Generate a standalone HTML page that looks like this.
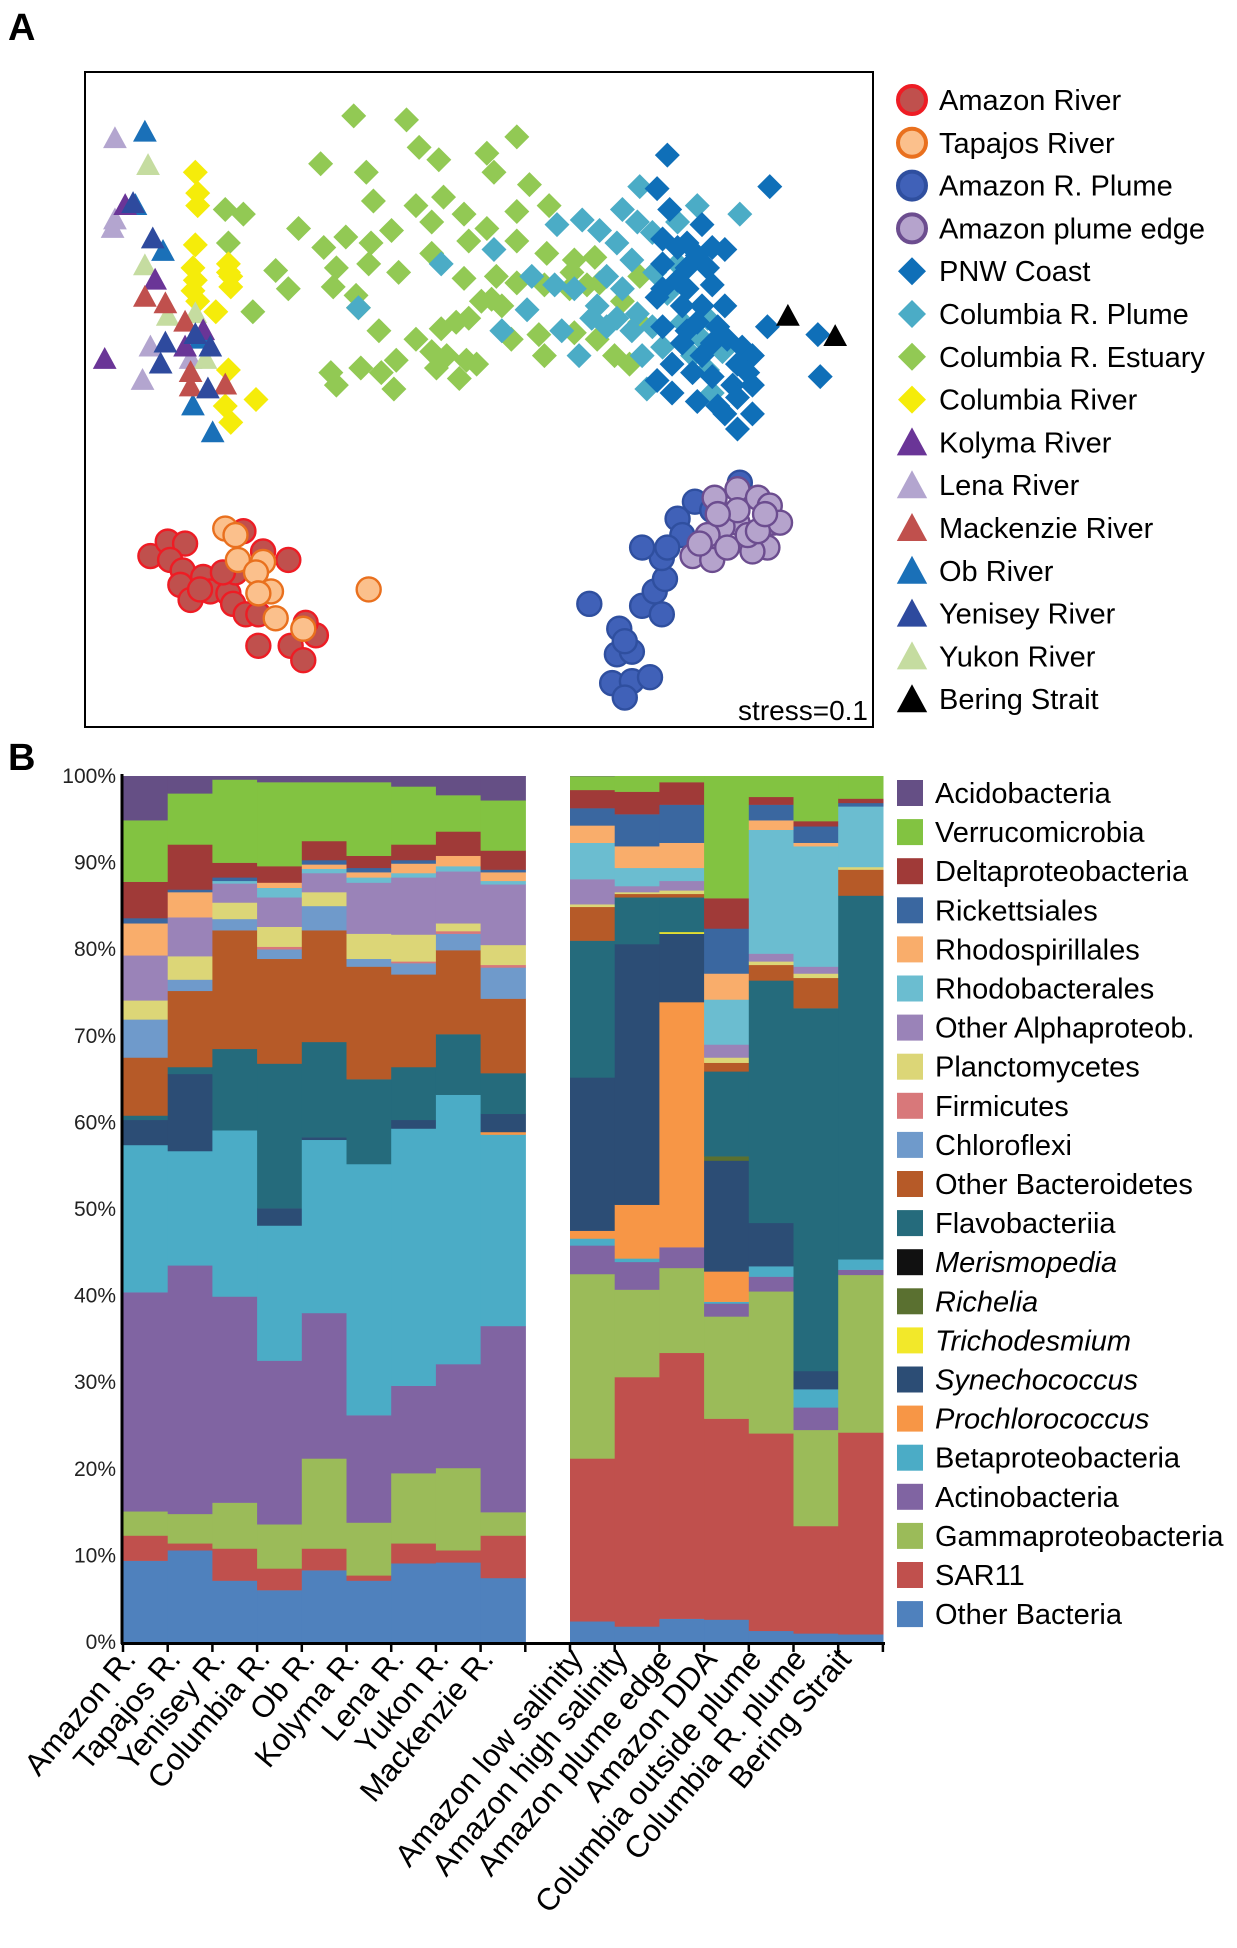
<!DOCTYPE html>
<html><head><meta charset="utf-8"><style>
html,body{margin:0;padding:0;background:#fff;}
svg{display:block;font-family:"Liberation Sans",Arial,sans-serif;}
</style></head><body>
<svg id="fig" width="1237" height="1948" viewBox="0 0 1237 1948">
<text x="8" y="40" font-size="38" font-weight="bold">A</text>
<text x="8" y="770" font-size="38" font-weight="bold">B</text>
<rect x="85" y="72" width="788" height="655" fill="none" stroke="#000" stroke-width="2"/>
<g id="scatter"></g>
<text x="868" y="720" font-size="28" text-anchor="end">stress=0.1</text>
<g id="legA"></g>
<g id="bars"></g>
<g id="axes"></g>
<g id="legB"></g>
</svg>
<script>
// ---------- Panel A data (NMDS coords, % of plot extent) ----------
const amazonRiver=[[8.3,73.9],[10.5,71.7],[12.7,72],[10.8,74.5],[12.4,76.1],[12.1,78.3],[13.4,80.6],[15,77.1],[15.9,79.3],[18.2,79.6],[18.8,81.2],[19.1,76.4],[20.1,70.1],[22.6,73.2],[25.8,74.5],[20.4,82.8],[22,82.8],[22,87.6],[26.1,87.6],[27.7,89.8],[29.3,86],[28,84.1],[17.5,76.4],[14.6,79]];
const tapajosRiver=[[17.8,69.7],[19.1,70.7],[19.4,74.5],[22.6,74.8],[21.7,76.4],[23.6,79.3],[22,79.6],[24.2,83.4],[27.7,85],[36,79]];
const amazonPlume=[[64,81.2],[67.8,85],[70.7,81.5],[73.2,82.8],[72.3,79.3],[73.6,77.4],[73.2,74.2],[70.7,72.6],[75.2,68.2],[75.8,70.7],[77.4,65.6],[83.1,62.7],[67.5,88.9],[69.4,88.5],[68.5,86.9],[66.9,93.3],[69.4,93],[71.7,92.4],[68.5,95.5],[73.9,72.6],[79.6,66.9]];
const plumeEdge=[[79.9,65],[82.8,63.7],[85.4,65],[86.9,66.2],[87.3,68.8],[88.2,68.8],[86.6,72.6],[84.7,73.2],[82.8,68.8],[80.9,69.4],[79,70.7],[77.1,73.9],[79.6,74.5],[81.5,72.6],[84.1,70.7],[85.4,70.1],[82.8,66.9],[80.3,67.5],[78,72],[86.3,67.5]];
const estuary=[[34.1,6.7],[40.8,7.3],[54.8,9.9],[42.4,11.5],[44.9,13.4],[51,12.4],[29.9,14],[35.7,15.3],[51.9,15.3],[56.4,17.2],[36.6,19.7],[42,20.4],[45.5,19.1],[48.1,21.7],[54.8,21.3],[58.9,20.4],[17.8,21],[20.1,21.7],[27.1,23.9],[33.1,25.2],[38.9,24.2],[44,22.9],[51,23.9],[30.3,26.8],[36.3,26.1],[44,27.7],[48.7,25.8],[54.8,25.8],[58.6,27.7],[62.1,28.7],[64.7,28.3],[18.2,26.1],[24.2,30.3],[25.8,33.1],[31.9,29.9],[36,29.3],[31.5,32.8],[39.8,30.6],[34.4,34.1],[48.1,31.5],[52.2,31.2],[54.8,32.2],[58.3,32.5],[61.8,30.6],[65.3,32.2],[70.4,31.2],[21.3,36.6],[34.7,36],[37.3,39.5],[42,40.8],[45.2,39.2],[47.1,38.2],[48.7,37.6],[50.3,35],[51.6,34.7],[52.9,35.7],[54.1,40.8],[57.6,40.1],[62.1,39.8],[65,40.8],[68.2,35],[70.4,38.2],[31.2,45.9],[35,45.2],[39.5,44],[44,42.7],[45.9,43.3],[48.4,44],[49.7,44.6],[37.6,45.9],[39.2,48.4],[31.9,47.8],[44.6,45.2],[47.5,46.8],[58.3,43.3],[67.2,43.3],[69.1,44.6],[63.7,32.5],[61.5,33.1]];
const colPlume=[[70.4,17.5],[77.7,20.4],[83.1,21.7],[68.2,21],[70.1,22.9],[75.2,22.9],[65.3,24.2],[67.5,26.1],[72,24.5],[59.9,23.3],[63.1,22.6],[51.9,27.1],[45.2,29.3],[69.4,28.7],[66.2,31.2],[68.2,33.1],[72.3,30.6],[75.2,29.3],[56.7,31.2],[59.6,32.5],[62.1,33.1],[65,35.7],[67.5,37.6],[64.3,37.6],[70.1,36.9],[72,38.9],[75.8,38.2],[79,37.6],[78.3,40.8],[80.9,42.7],[77.1,43.3],[79,45.5],[79.6,49],[71.3,48.4],[70.7,43.3],[66.2,38.9],[56.1,36.3],[52.9,39.5],[60.5,39.5],[62.7,43.3],[34.7,36],[73.3,42],[69.4,39.5],[73.9,33.8],[76.4,33.1]];
const pnwCoast=[[73.9,12.7],[86.9,17.5],[72.6,17.8],[74.2,21],[78.3,23.3],[73.3,25.5],[75.2,26.8],[76.4,26.1],[79.6,26.8],[81.2,27.1],[73.3,29.3],[76.4,29.9],[79,29.9],[73.3,33.1],[76.4,33.1],[79.6,32.5],[72.6,34.4],[75.8,35.7],[78.3,35.7],[81.2,35.7],[73.3,38.9],[76.4,39.5],[80.3,38.9],[81.5,40.8],[83.4,42],[84.7,43.3],[84.1,45.9],[82.2,47.8],[79.6,46.5],[77.1,45.9],[74.5,44.6],[72.6,47.1],[74.5,49],[77.7,50.3],[80.3,51],[82.8,49.7],[84.7,52.2],[82.8,54.5],[81.2,52.2],[86.6,38.9],[93,40.1],[93.3,46.5],[75.8,41.4],[78.3,43.3],[82.8,44.6],[77.7,38.2],[79.6,41.4],[75.2,31.8],[77.7,28],[84.7,47.8]];
const columbiaRiver=[[14,15.3],[14.3,18.5],[14.3,20.4],[14,26.4],[13.7,29.9],[14,31.8],[13.7,33.4],[14.3,35],[18.2,29.3],[18.5,31.2],[18.5,32.8],[16.6,36.6],[18.2,45.5],[21.7,50],[17.8,51],[18.5,53.5],[18.2,30.6]];
const kolyma=[[5.1,20.4],[8.9,31.8],[2.5,43.9],[12.7,42],[15,39.5]];
const lena=[[3.8,10.2],[3.8,22.6],[3.5,23.9],[8.3,42],[7.3,47.1],[13.4,43.9]];
const mackenzie=[[7.6,34.4],[10.2,35.4],[12.7,38.2],[13.4,45.9],[13.4,48.1],[17.8,47.8]];
const obRiver=[[7.6,9.2],[9.9,27.4],[13.7,51],[16.2,55.1],[14.6,40.8],[6.4,20.4]];
const yenisey=[[6.1,20.1],[8.6,25.5],[10.2,41.4],[9.6,44.6],[14,40.1],[15.9,42],[15.6,48.4]];
const yukon=[[8,14.3],[7.6,29.6],[10.5,37.3],[14,36.9],[15.3,43.9]];
const bering=[[89.2,37.3],[95.2,40.4]];

// ---------- Panel B data (% relative abundance) ----------
const riverCats=["Amazon R.","Tapajos R.","Yenisey R.","Columbia R.","Ob R.","Kolyma R.","Lena R.","Yukon R.","Mackenzie R."];
const marineCats=["Amazon low salinity","Amazon high salinity","Amazon plume edge","Amazon DDA","Columbia outside plume","Columbia R. plume","Bering Strait"];
const taxa=["Other Bacteria","SAR11","Gammaproteobacteria","Actinobacteria","Betaproteobacteria","Prochlorococcus","Synechococcus","Trichodesmium","Richelia","Merismopedia","Flavobacteriia","Other Bacteroidetes","Chloroflexi","Firmicutes","Planctomycetes","Other Alphaproteob.","Rhodobacterales","Rhodospirillales","Rickettsiales","Deltaproteobacteria","Verrucomicrobia","Acidobacteria"];
const taxaColors=["#4f81bd","#c0504d","#9bbb59","#8064a2","#4bacc6","#f79646","#2c4d75","#f2e82a","#5a7030","#111111","#256b7c","#b65a28","#6f9acb","#d8787a","#dcd677","#9a83b8","#6bbdd0","#f9ad6b","#3a67a0","#a03a38","#82c341","#654f85"];
const italicTaxa=["Prochlorococcus","Synechococcus","Trichodesmium","Richelia","Merismopedia"];
const amazonR   =[9.4,2.9,2.8,25.3,17,0,2.9,0,0,0,0.5,6.7,4.4,0,2.2,5.2,0,3.7,0.6,4.2,7.1,5.1];
const tapajosR  =[10.6,0.8,3.4,28.7,13.2,0,8.9,0,0,0,0.8,8.8,1.3,0,2.7,4.5,0,2.9,0.3,5.2,5.9,2.0];
const yeniseyR  =[7.1,3.7,5.3,23.8,19.2,0,0,0,0,0,9.4,13.7,1.3,0,1.9,2.2,0.3,0,0.4,1.7,9.6,0.4];
const columbiaR =[6.0,2.5,5.1,18.9,15.6,0,2.0,0,0,0,16.7,12.1,1.1,0.3,2.3,3.4,1.1,0.6,0,1.9,9.7,0.7];
const obR       =[8.3,2.5,10.4,16.8,20,0,0.3,0,0,0,11,12.9,2.8,0,1.6,2.2,0.5,0.5,0.5,2.2,6.8,0.7];
const kolymaR   =[7.1,0.6,6.1,12.4,29,0,0,0,0,0,9.8,13,0.9,0,2.9,5.9,0.6,0.6,0.5,1.4,8.5,0.7];
const lenaR     =[9.1,2.3,8.1,10.1,29.7,0,1,0,0,0,6.1,10.7,1.3,0.2,3.1,6.6,0.5,1.1,0.4,1.8,6.7,1.2];
const yukonR    =[9.2,1.4,9.5,12,31.1,0,0,0,0,0,7,9.7,1.9,0.3,0.9,6,0.6,1.2,0,2.8,4.2,2.2];
const mackenzieR=[7.4,4.9,2.7,21.5,22.1,0.3,2.1,0,0,0,4.7,8.6,3.6,0.3,2.3,7,0.4,1,0.3,2.2,5.8,2.8];
const amzLow    =[2.4,18.8,21.3,3.3,0.8,0.9,17.7,0,0,0,15.8,3.9,0,0,0.3,2.9,4.2,2,2,2.1,1.6,0];
const amzHigh   =[1.8,28.8,10.1,3.2,0.4,6.2,30.1,0,0,0,5.4,0.4,0,0,0.2,0.7,2.1,2.5,3.7,2.6,1.8,0];
const amzEdge   =[2.7,30.7,9.8,2.4,0,28.3,7.9,0.2,0,0,4,0.4,0,0,0.4,1.1,1.5,2.9,4.4,2.6,0.7,0];
const amzDDA    =[2.6,23.2,11.8,1.5,0.2,3.5,12.8,0,0.5,0,9.8,1,0,0,0.6,1.5,5.2,3,5.2,3.5,14.1,0];
const colOutside=[1.3,22.8,16.4,1.7,1.2,0,5,0,0,0,28,1.8,0,0,0.4,0.9,14.3,1.1,1.8,0.9,2.4,0];
const colPlumeB =[1.0,12.4,11.1,2.6,2.1,0,2.1,0,0,0,41.9,3.5,0,0,0.5,0.8,13.9,0.4,1.9,0.6,5.2,0];
const beringS   =[0.9,23.3,18.2,0.6,1.2,0,0,0,0,0,42,3,0,0,0.3,0,7,0,0.4,0.5,2.6,0];
const riverVals=[amazonR,tapajosR,yeniseyR,columbiaR,obR,kolymaR,lenaR,yukonR,mackenzieR];
const marineVals=[amzLow,amzHigh,amzEdge,amzDDA,colOutside,colPlumeB,beringS];
const yTicks=[0,10,20,30,40,50,60,70,80,90,100];

const NS="http://www.w3.org/2000/svg";
function mk(tag,attrs,parent){const e=document.createElementNS(NS,tag);for(const k in attrs)e.setAttribute(k,attrs[k]);parent.appendChild(e);return e;}

// ---------- Panel A ----------
const ax0=85,aw=788,ay0=72,ah=655;
const sx=v=>ax0+v/100*aw, sy=v=>ay0+v/100*ah;
const sc=document.getElementById('scatter');
function circle(g,x,y,fill,stroke,r,name){const e=mk('circle',{cx:x,cy:y,r:r,fill:fill,stroke:stroke,'stroke-width':2.4},g);

return e;}
function diamond(g,x,y,fill,s,name){const e=mk('path',{d:`M${x},${y-s}L${x+s},${y}L${x},${y+s}L${x-s},${y}Z`,fill:fill},g);

return e;}
function tri(g,x,y,fill,s,name){const e=mk('path',{d:`M${x},${y-s}L${x+s*0.95},${y+s*0.75}L${x-s*0.95},${y+s*0.75}Z`,fill:fill},g);

return e;}
const groups=[
 {pts:estuary,kind:'d',fill:'#92c954',name:'columbia-estuary-point'},
 {pts:colPlume,kind:'d',fill:'#4bacc6',name:'columbia-plume-point'},
 {pts:pnwCoast,kind:'d',fill:'#0f6fb8',name:'pnw-coast-point'},
 {pts:columbiaRiver,kind:'d',fill:'#f5ec0a',name:'columbia-river-point'},
 {pts:obRiver,kind:'t',fill:'#1a70b8',name:'ob-river-point'},
 {pts:lena,kind:'t',fill:'#b3a5cf',name:'lena-river-point'},
 {pts:yukon,kind:'t',fill:'#c5dca0',name:'yukon-river-point'},
 {pts:kolyma,kind:'t',fill:'#6a3597',name:'kolyma-river-point'},
 {pts:mackenzie,kind:'t',fill:'#c0504d',name:'mackenzie-river-point'},
 {pts:yenisey,kind:'t',fill:'#2e4a9e',name:'yenisey-river-point'},
 {pts:bering,kind:'t',fill:'#000',name:'bering-strait-point'},
 {pts:amazonRiver,kind:'c',fill:'#c0504d',stroke:'#ee1c24',name:'amazon-river-point'},
 {pts:tapajosRiver,kind:'c',fill:'#fbc08c',stroke:'#e9701e',name:'tapajos-river-point'},
 {pts:amazonPlume,kind:'c',fill:'#4061b8',stroke:'#2f4f9f',name:'amazon-plume-point'},
 {pts:plumeEdge,kind:'c',fill:'#b5a3cc',stroke:'#6c4d8f',name:'amazon-plume-edge-point'}];
groups.forEach(g=>{g.pts.forEach(p=>{const x=sx(p[0]),y=sy(p[1]);
 if(g.kind==='d')diamond(sc,x,y,g.fill,12.5,g.name);
 else if(g.kind==='t')tri(sc,x,y,g.fill,12.5,g.name);
 else circle(sc,x,y,g.fill,g.stroke,12,g.name);});});

const legAItems=[
 ['c','#c0504d','#ee1c24','Amazon River'],['c','#fbc08c','#e9701e','Tapajos River'],['c','#4061b8','#2f4f9f','Amazon R. Plume'],['c','#b5a3cc','#6c4d8f','Amazon plume edge'],
 ['d','#0f6fb8','','PNW Coast'],['d','#4bacc6','','Columbia R. Plume'],['d','#92c954','','Columbia R. Estuary'],['d','#f5ec0a','','Columbia River'],
 ['t','#6a3597','','Kolyma River'],['t','#b3a5cf','','Lena River'],['t','#c0504d','','Mackenzie River'],['t','#1a70b8','','Ob River'],['t','#2e4a9e','','Yenisey River'],['t','#c5dca0','','Yukon River'],['t','#000','','Bering Strait']];
const legA=document.getElementById('legA');
legAItems.forEach((it,i)=>{const y=100+i*42.8;const x=912;
 if(it[0]==='c'){const c=mk('circle',{cx:x,cy:y,r:14,fill:it[1],stroke:it[2],'stroke-width':4},legA);
  
  }
 else if(it[0]==='d')diamond(legA,x,y,it[1],14,'legend-marker');
 else tri(legA,x,y+1,it[1],16,'legend-marker');
 const t=mk('text',{x:939,y:y+10,'font-size':29},legA);t.textContent=it[3];
 
 });

// ---------- Panel B ----------
const yTop=776,yBot=1642,bw=44.7,leftX=123,rightX=570;
const yS=v=>yBot-v/100*(yBot-yTop);
const bars=document.getElementById('bars');
function drawCols(vals,x0){vals.forEach((col,ci)=>{let cum=0;const x=x0+ci*bw;
 col.forEach((v,ti)=>{if(v<=0)return;const r=mk('rect',{x:x,y:yS(cum+v),width:bw+0.6,height:yS(cum)-yS(cum+v)+0.3,fill:taxaColors[ti]},bars);
  
  
  cum+=v;});
 if(cum<100){const r=mk('rect',{x:x,y:yS(100),width:bw+0.6,height:yS(cum)-yS(100)+0.3,fill:taxaColors[cum>99?21:20]},bars);
  
  }
});}
drawCols(riverVals,leftX);drawCols(marineVals,rightX);

const axes=document.getElementById('axes');
mk('line',{x1:122,y1:yTop-2,x2:122,y2:yBot+2,stroke:'#000','stroke-width':3},axes);
mk('line',{x1:121,y1:yBot+1.5,x2:885,y2:yBot+1.5,stroke:'#000','stroke-width':3},axes);
yTicks.forEach(t=>{const e=mk('text',{x:116,y:yS(t)+7,'font-size':21,'text-anchor':'end',fill:'#222'},axes);e.textContent=t+'%';
 
 });
function xTicks(cats,x0){for(let i=0;i<=cats.length;i++){mk('line',{x1:x0+i*bw,y1:yBot,x2:x0+i*bw,y2:yBot+10,stroke:'#000','stroke-width':2.5},axes);}
 cats.forEach((c,i)=>{const cx=x0+(i+0.5)*bw-8,cy=yBot+18;const e=mk('text',{x:0,y:0,'font-size':31,'text-anchor':'end',transform:`translate(${cx},${cy}) rotate(-50)`},axes);e.textContent=c;
 
 });}
xTicks(riverCats,leftX);xTicks(marineCats,rightX);

const legB=document.getElementById('legB');
taxa.slice().reverse().forEach((name,i)=>{const ti=taxa.length-1-i;const y=793+i*39.1;
 const r=mk('rect',{x:897,y:y-13,width:26,height:26,fill:taxaColors[ti]},legB);
 
 
 const t=mk('text',{x:935,y:y+10,'font-size':29},legB);t.textContent=name;
 if(italicTaxa.includes(name))t.setAttribute('font-style','italic');
 
 });
</script>
</body></html>
